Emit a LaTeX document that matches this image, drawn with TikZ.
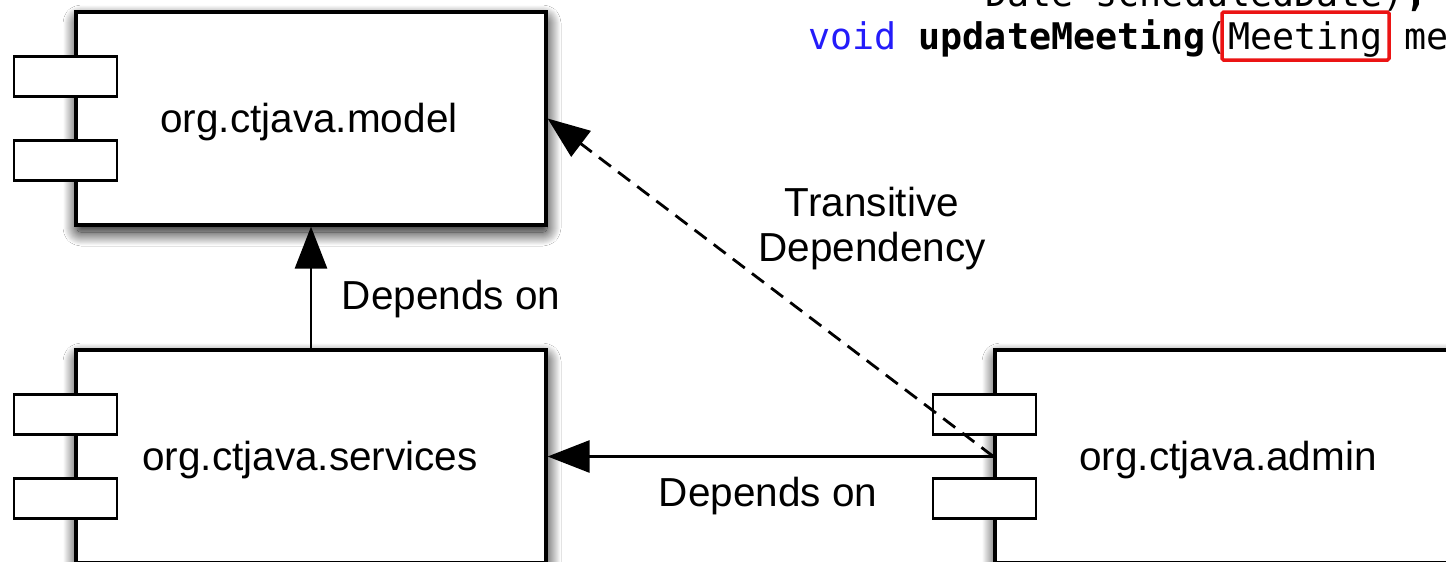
\documentclass[tikz,border=0pt]{standalone}
\usepackage{fontspec}
\setmainfont{Liberation Sans}
\newfontfamily\codefont{DejaVu Sans Mono}
\usetikzlibrary{arrows.meta,shadows.blur}

\definecolor{codeblue}{RGB}{36,28,250}
\definecolor{markred}{RGB}{235,20,20}

\tikzset{
  comp/.style={draw=black, line width=3.2pt, fill=white,
    minimum width=470pt, minimum height=213pt, inner sep=0pt,
    blur shadow={shadow xshift=1pt, shadow yshift=-7pt,
                 shadow blur radius=14pt, shadow blur steps=28,
                 shadow blur extra rounding=4pt,
                 shadow opacity=100}},
  port/.style={draw=black, line width=2.8pt, fill=white,
    minimum width=103pt, minimum height=40pt, inner sep=0pt},
  lbl/.style={font=\fontsize{40.5}{45}\selectfont, inner sep=0pt},
  dep/.style={line width=2.8pt, -{Triangle[length=42pt,width=32pt]}},
  dashdep/.style={dep, dash pattern=on 15pt off 9pt},
  code/.style={font=\codefont\fontsize{36.7}{44}\selectfont,
    inner sep=0pt, anchor=base west},
}

\begin{document}
\begin{tikzpicture}[x=1pt,y=-1pt]
\useasboundingbox (0,0) rectangle (1446,562);
\clip (0,0) rectangle (1446,562);
\fill[white] (0,0) rectangle (1446,562);

% source listing strip
\node[code] (c1) at (985,6) {Date scheduledDate)\textbf{;}};
\node[code] (c2) at (808,49) {\textcolor{codeblue}{void} \textbf{updateMeeting}(Meeting me};
\draw[markred, line width=3.5pt, rounded corners=1.5pt] (1222,12) rectangle (1389,60);

% components
\node[comp] (m) at (311,118.5) {};
\node[comp] (s) at (311,456.5) {};
\node[comp] (a) at (1230,456.5) {};

\foreach \b in {m,s,a} {
  \node[port] (\b p1) at ([shift={(-9,-42)}]\b.west) {};
  \node[port] (\b p2) at ([shift={(-9,42)}]\b.west) {};
}

\node[lbl, anchor=base] (mt) at (309,132) {org.ctjava.model};
\node[lbl, anchor=base] (st) at (310,470) {org.ctjava.services};
\node[lbl, anchor=base] (at) at (1228,470) {org.ctjava.admin};

% dependencies
\draw[dep] (s.north) -- (m.south);
\draw[dep] (a.west) -- (s.east);
\draw[dashdep] (a.west) -- (m.east);

\node[lbl, anchor=base] (d1) at (451,309) {Depends on};
\node[lbl, anchor=base] (d2) at (768,506) {Depends on};
\node[lbl, align=center, anchor=base] (td) at (872,261) {Transitive\\Dependency};
\end{tikzpicture}
\end{document}
